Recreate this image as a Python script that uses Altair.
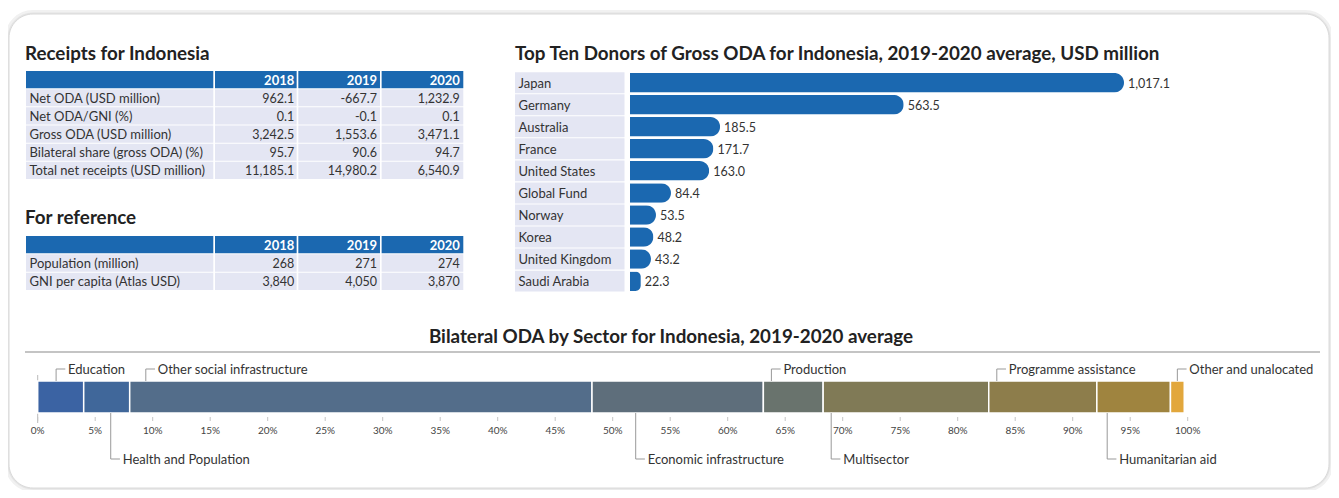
import altair as alt
import pandas as pd

# ---------------- data ----------------
years = ["2018", "2019", "2020"]
receipt_rows = ["Net ODA (USD million)", "Net ODA/GNI (%)", "Gross ODA (USD million)",
                "Bilateral share (gross ODA) (%)", "Total net receipts (USD million)"]
receipt_2018 = ["962.1", "0.1", "3,242.5", "95.7", "11,185.1"]
receipt_2019 = ["-667.7", "-0.1", "1,553.6", "90.6", "14,980.2"]
receipt_2020 = ["1,232.9", "0.1", "3,471.1", "94.7", "6,540.9"]

ref_rows = ["Population (million)", "GNI per capita (Atlas USD)"]
ref_2018 = ["268", "3,840"]
ref_2019 = ["271", "4,050"]
ref_2020 = ["274", "3,870"]

donors = ["Japan", "Germany", "Australia", "France", "United States", "Global Fund",
          "Norway", "Korea", "United Kingdom", "Saudi Arabia"]
donor_values = [1017.1, 563.5, 185.5, 171.7, 163.0, 84.4, 53.5, 48.2, 43.2, 22.3]

sectors = ["Education", "Health and Population", "Other social infrastructure",
           "Economic infrastructure", "Production", "Multisector",
           "Programme assistance", "Humanitarian aid", "Other and unalocated"]
sector_shares = [4.0, 4.0, 40.2, 14.9, 5.2, 14.4, 9.4, 6.4, 1.2]
sector_label_side = ["above", "below", "above", "below", "above", "below", "above", "below", "above"]
sector_label_anchor = [1.6, 6.35, 9.4, 52.0, 63.8, 69.0, 83.4, 93.0, 99.1]
percent_ticks = list(range(0, 101, 5))

# ---------------- styles ----------------
FONT = "Lato"
TFONT = "Lato"
BLUE = "#1b68b0"
LAV = "#e4e6f3"
TXT = "#333333"
sector_colors = ["#3b63a3", "#40679a", "#536d8a", "#5e6e7b", "#69736d",
                 "#807a56", "#8d7d4b", "#9f843f", "#e2a73c"]
W, H = 1323, 482

one = alt.Data(values=[{"a": 1}])


def fixed_text(text, x, y, size=18.8, weight="bold", align="left"):
    return alt.Chart(one).mark_text(
        text=text, align=align, baseline="alphabetic", font=TFONT,
        fontSize=size, fontWeight=weight, color="#222222"
    ).encode(x=alt.value(x), y=alt.value(y))


def table(rows, v18, v19, v20, top, lab_l, lab_r, yr_l, yr_r):
    dom = ["__h"] + rows
    ysc = alt.Scale(domain=dom, range=[top, top + 18 * len(dom)], paddingInner=1 / 18, paddingOuter=0)
    xsc = alt.Scale(domain=years, range=[yr_l, yr_r], paddingInner=0.02, paddingOuter=0)
    half_band = (yr_r - yr_l) / 3 / 2
    lab = pd.DataFrame({"row": dom, "text": [""] + rows,
                        "fill": [BLUE] + [LAV] * len(rows)})
    recs = []
    for i, r in enumerate(dom):
        for y, vals in zip(years, [v18, v19, v20]):
            if i == 0:
                recs.append({"row": r, "year": y, "text": y, "fill": BLUE})
            else:
                recs.append({"row": r, "year": y, "text": vals[i - 1], "fill": LAV})
    cells = pd.DataFrame(recs)
    Y = alt.Y("row:N", scale=ysc, axis=None, sort=dom)
    X = alt.X("year:N", scale=xsc, axis=None, sort=years)
    label_rect = alt.Chart(lab).mark_rect().encode(
        x=alt.value(lab_l), x2=alt.value(lab_r), y=Y, fill=alt.Fill("fill:N", scale=None))
    label_text = alt.Chart(lab).mark_text(
        align="left", baseline="middle", font=FONT, fontSize=13, color=TXT, dy=1
    ).encode(x=alt.value(lab_l + 3.5), y=Y, text="text:N")
    cell_rect = alt.Chart(cells).mark_rect().encode(
        x=X, y=Y, fill=alt.Fill("fill:N", scale=None))
    cell_text_body = alt.Chart(cells).transform_filter("datum.row != '__h'").mark_text(
        align="right", baseline="middle", font=FONT, fontSize=12.5, color=TXT, dx=half_band - 3.5, dy=1
    ).encode(x=X, y=Y, text="text:N")
    cell_text_head = alt.Chart(cells).transform_filter("datum.row == '__h'").mark_text(
        align="right", baseline="middle", font=FONT, fontSize=13, fontWeight="bold", color="white",
        dx=half_band - 3.5, dy=1
    ).encode(x=X, y=Y, text="text:N")
    return [label_rect, cell_rect, label_text, cell_text_body, cell_text_head]


# ---------------- card ----------------
CX1, CX2, CY1, CY2 = 1, W - 2, 6, H - 2
card_layers = [
    alt.Chart(one).mark_rect(cornerRadius=24, fill="white", stroke="#f1f1f1", strokeWidth=8).encode(
        x=alt.value(CX1), x2=alt.value(CX2), y=alt.value(CY1), y2=alt.value(CY2)),
    alt.Chart(one).mark_rect(cornerRadius=24, fill="white", stroke="#e4e4e4", strokeWidth=3).encode(
        x=alt.value(CX1), x2=alt.value(CX2), y=alt.value(CY1), y2=alt.value(CY2)),
    alt.Chart(one).mark_rect(cornerRadius=24, fill="white", stroke="#dadada", strokeWidth=1).encode(
        x=alt.value(CX1), x2=alt.value(CX2), y=alt.value(CY1), y2=alt.value(CY2)),
]

# ---------------- tables ----------------
t1 = table(receipt_rows, receipt_2018, receipt_2019, receipt_2020, 63, 18, 205.3, 207, 455.3)
t2 = table(ref_rows, ref_2018, ref_2019, ref_2020, 228, 18, 205.3, 207, 455.3)

# ---------------- donors ----------------
ddf = pd.DataFrame({"donor": donors, "value": donor_values})
dY = alt.Y("donor:N", sort=donors, axis=None,
           scale=alt.Scale(domain=donors, range=[64.2, 283.6], paddingInner=0.05, paddingOuter=0))
dX = alt.X("value:Q", axis=None, scale=alt.Scale(domain=[0, 1017.1], range=[622, 1116]))
donor_layers = [
    alt.Chart(ddf).mark_rect(color=LAV).encode(x=alt.value(507), x2=alt.value(616.5), y=dY),
    alt.Chart(ddf).mark_text(align="left", baseline="middle", font=FONT, fontSize=13, color=TXT, dy=1).encode(
        x=alt.value(510.5), y=dY, text="donor:N"),
    alt.Chart(ddf).mark_bar(color=BLUE, size=19.5, cornerRadiusEnd=9.75).encode(x=dX, y=dY),
    alt.Chart(ddf).mark_text(align="left", baseline="middle", font=FONT, fontSize=12.5, color=TXT, dx=4, dy=1).encode(
        x=dX, y=dY, text=alt.Text("value:Q", format=",.1f")),
]

# ---------------- sectors ----------------
sdf = pd.DataFrame({"sector": sectors, "share": sector_shares,
                    "side": sector_label_side, "anchor": sector_label_anchor})
sdf["end"] = sdf["share"].cumsum()
sdf["start"] = sdf["end"] - sdf["share"]
sdf["hook"] = sdf["anchor"] + 0.8
pscale = alt.Scale(domain=[0, 100], range=[29.7, 1179.7])
BAR_T, BAR_B = 373, 405
UP_Y, DN_Y = 361, 451
tdf = pd.DataFrame({"tick": percent_ticks})

sector_layers = [
    alt.Chart(tdf).transform_filter("datum.tick == 0").mark_rule(color="#bbbbbb", strokeWidth=1).encode(
        x=alt.X("tick:Q", scale=pscale, axis=None), y=alt.value(367), y2=alt.value(415)),
    alt.Chart(sdf).mark_rect(stroke="white", strokeWidth=1.5).encode(
        x=alt.X("start:Q", scale=pscale, axis=None), x2="end:Q",
        y=alt.value(BAR_T), y2=alt.value(BAR_B),
        fill=alt.Fill("sector:N", scale=alt.Scale(domain=sectors, range=sector_colors), legend=None)),
    alt.Chart(tdf).mark_rule(color="#c4c4c4", strokeWidth=1).encode(
        x=alt.X("tick:Q", scale=pscale, axis=None), y=alt.value(409), y2=alt.value(413)),
    alt.Chart(tdf).mark_text(font=FONT, fontSize=10, color="#444444", baseline="middle").encode(
        x=alt.X("tick:Q", scale=pscale, axis=None), y=alt.value(423),
        text=alt.Text("label:N")).transform_calculate(label="datum.tick + '%'"),
]
for side, y_lab, y_bar in [("above", UP_Y, BAR_T), ("below", DN_Y, BAR_B)]:
    base = alt.Chart(sdf).transform_filter(f"datum.side == '{side}'")
    sector_layers += [
        base.mark_rule(color="#999999", strokeWidth=1).encode(
            x=alt.X("anchor:Q", scale=pscale, axis=None), y=alt.value(y_bar), y2=alt.value(y_lab)),
        base.mark_rule(color="#999999", strokeWidth=1).encode(
            x=alt.X("anchor:Q", scale=pscale, axis=None), x2="hook:Q", y=alt.value(y_lab)),
        base.mark_text(align="left", baseline="middle", font=FONT, fontSize=13, color=TXT, dx=12, dy=0.5).encode(
            x=alt.X("anchor:Q", scale=pscale, axis=None), y=alt.value(y_lab), text="sector:N"),
    ]

# ---------------- titles & divider ----------------
titles = [
    fixed_text("Receipts for Indonesia", 17, 51.5),
    fixed_text("For reference", 17, 216),
    fixed_text("Top Ten Donors of Gross ODA for Indonesia, 2019-2020 average, USD million", 507, 51.5),
    fixed_text("Bilateral ODA by Sector for Indonesia, 2019-2020 average", 663, 335, align="center"),
    alt.Chart(one).mark_rule(color="#b0b0b0", strokeWidth=1.5).encode(
        x=alt.value(17), x2=alt.value(1312), y=alt.value(344)),
]

chart = alt.layer(*card_layers, *t1, *t2, *donor_layers, *sector_layers, *titles).resolve_scale(
    x="independent", y="independent", fill="independent"
).properties(
    width=W, height=H, autosize=alt.AutoSizeParams(type="none"), padding=0
).configure_view(stroke=None)

chart.save("out.html", embed_options={"renderer": "svg", "actions": False})
